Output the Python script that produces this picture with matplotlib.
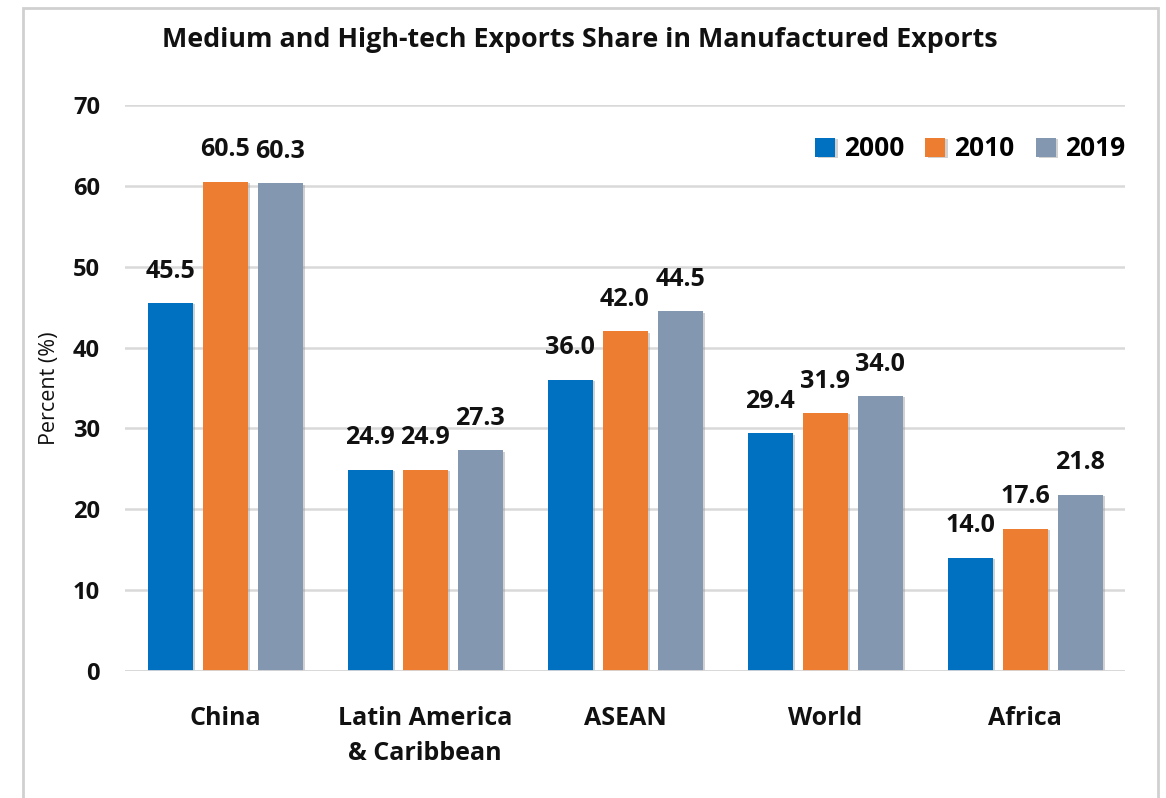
import matplotlib
matplotlib.use("Agg")
import matplotlib.pyplot as plt
import matplotlib.patheffects as pe
from matplotlib.patches import Rectangle
import numpy as np

regions = ["China", "Latin America\n& Caribbean", "ASEAN", "World", "Africa"]
years = ["2000", "2010", "2019"]
share_2000 = [45.5, 24.9, 36.0, 29.4, 14.0]
share_2010 = [60.5, 24.9, 42.0, 31.9, 17.6]
share_2019 = [60.3, 27.3, 44.5, 34.0, 21.8]
colors = ["#0070C0", "#ED7D31", "#8497B0"]
yticks = [0, 10, 20, 30, 40, 50, 60, 70]

plt.rcParams["font.family"] = ["Open Sans", "DejaVu Sans"]

W, H = 1166, 798
fig = plt.figure(figsize=(W / 100, H / 100), dpi=100)
fig.patch.set_facecolor("white")

# outer chart frame
fig.patches.append(Rectangle((23 / W, -0.01), (1158 - 23) / W, (H - 8) / H + 0.01,
                             transform=fig.transFigure, fill=False,
                             edgecolor="#D0D0D0", linewidth=2.0))

ax = fig.add_axes([125 / W, 1 - 671 / H, (1125 - 125) / W, (671 - 105) / H])
ax.set_xlim(-0.5, 4.5)
ax.set_ylim(0, 70)

x = np.arange(len(regions))
width = 0.225
step = 0.275
shadow = [pe.SimplePatchShadow(offset=(2, -1), shadow_rgbFace="#9A9A9A", alpha=0.45), pe.Normal()]

for i, (vals, col, yr) in enumerate(zip([share_2000, share_2010, share_2019], colors, years)):
    bars = ax.bar(x + (i - 1) * step, vals, width, color=col, label=yr, zorder=3)
    for b, v in zip(bars, vals):
        b.set_path_effects(shadow)
        ax.annotate(f"{v:.1f}", (b.get_x() + b.get_width() / 2, v),
                    xytext=(0, 23), textcoords="offset points",
                    ha="center", va="center", fontsize=18, fontweight="bold",
                    color="#111111")

ax.set_yticks(yticks)
ax.set_yticklabels([str(t) for t in yticks], fontsize=17, fontweight="bold", color="#111111")
ax.set_xticks(x)
ax.set_xticklabels(regions, fontsize=18, fontweight="bold", color="#111111", linespacing=1.55)
ax.tick_params(axis="both", length=0)
ax.tick_params(axis="y", pad=18)
ax.tick_params(axis="x", pad=25)
ax.grid(axis="y", color="#D9D9D9", linewidth=1.8, zorder=0)
for s in ax.spines.values():
    s.set_visible(False)
ax.axhline(0, color="#D9D9D9", linewidth=2, zorder=4)

fig.text(50 / W, 1 - 388 / H, "Percent (%)", rotation=90, ha="center", va="center",
         fontsize=15.5, color="#111111")

fig.text(580 / W, 1 - 40 / H, "Medium and High-tech Exports Share in Manufactured Exports",
         ha="center", va="center", fontsize=19.4, fontweight="bold", color="#111111")

ax.legend(loc="center right", bbox_to_anchor=(1.0, 1 - 44 / 566), ncol=3, frameon=False,
          borderaxespad=0, borderpad=0, handlelength=0.75, handleheight=0.75,
          handletextpad=0.35, columnspacing=0.8, prop={"weight": "bold", "size": 19})

fig.savefig("out.png", dpi=100, facecolor="white")
